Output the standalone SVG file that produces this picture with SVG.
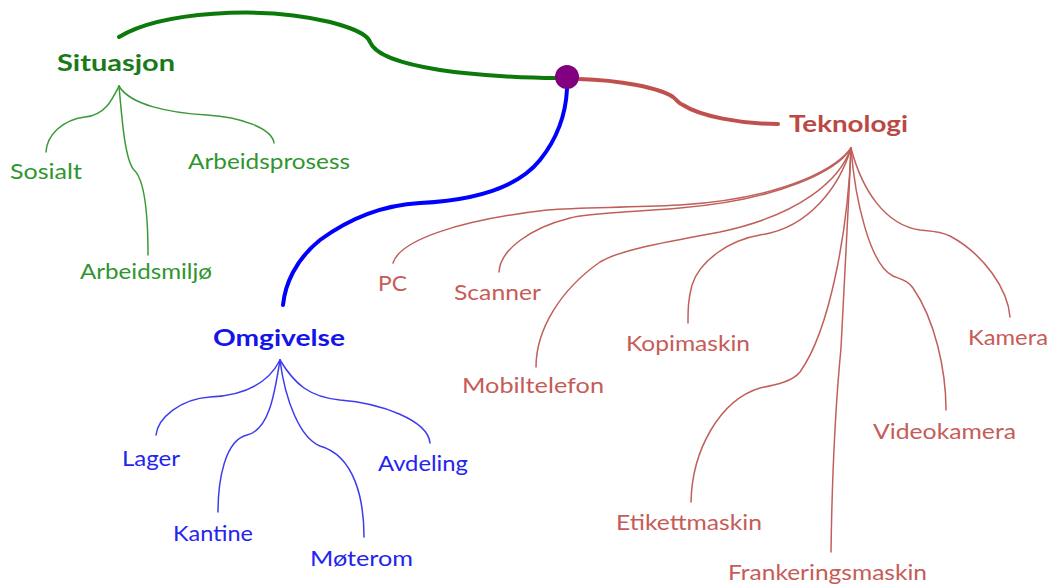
<svg xmlns="http://www.w3.org/2000/svg" width="1051" height="588" viewBox="0 0 1051 588">
<style>
text{font-family:Lato,"Open Sans","Liberation Sans",sans-serif;font-size:22px}
.b{font-weight:bold;font-size:23px}
.g{fill:#2f962f}.gb{fill:#1a7a1a}
.bl{fill:#2424f0}.blb{fill:#1414e8}
.r{fill:#c65c57}.rb{fill:#bb4843}
.thick{fill:none;stroke-width:4;stroke-linecap:round}
.thin{fill:none;stroke-width:1.5;stroke-linecap:round}
.cg{stroke:#0b7a0b}.cgt{stroke:#3a9a3a}
.cb{stroke:#0000ff}.cbt{stroke:#3c3cee}
.cr{stroke:#c0504d}.crt{stroke:#c0605c}
</style>
<rect width="1051" height="588" fill="#fff"/>
<g id="connectors">
<path class="thick cg" d="M119,37 C160,12 260,5 330,22 C360,30 368,36 370,42 C374,52 390,62 440,70 C480,76 530,78 556,78"/>
<path class="thick cr" d="M579,79 C620,80 660,88 673,97 C677,100 678,103 683,105 C700,116 740,124 778,124"/>
<path class="thick cb" d="M567,89 C566,110 560,135 540,160 C520,185 480,200 420,203 C385,205 350,218 320,240 C295,260 285,285 283,305"/>
<path class="thin cgt" d="M119,86 C112,100 105,115 85,117 C62,120 47,135 46,152"/>
<path class="thin cgt" d="M119,86 C130,105 170,113 207,115 C240,117 272,128 274,143"/>
<path class="thin cgt" d="M119,86 C122,120 125,160 134,170 C145,180 148,220 148,255"/>
<path class="thin cbt" d="M280,360 C270,380 250,395 210,397 C180,399 158,418 156,435"/>
<path class="thin cbt" d="M280,360 C275,390 270,430 247,435 C225,440 218,480 218,512"/>
<path class="thin cbt" d="M280,360 C285,400 300,438 320,446 C355,456 364,500 364,537"/>
<path class="thin cbt" d="M280,360 C295,385 310,397 340,400 C380,403 428,420 430,443"/>
<path class="thin crt" d="M851,148 C840,165 790,198 680,205 C620,208 580,207 547,210 C460,220 400,240 393,263"/>
<path class="thin crt" d="M851,148 C838,170 780,200 680,208 C620,213 590,213 570,218 C530,228 500,250 499,272"/>
<path class="thin crt" d="M851,148 C840,180 800,215 720,232 C660,243 620,250 600,262 C560,290 536,330 536,367"/>
<path class="thin crt" d="M851,148 C840,185 810,228 760,235 C730,240 700,260 692,285 C688,300 688,310 688,323"/>
<path class="thin crt" d="M851,148 C848,230 830,330 800,372 C792,382 775,385 760,388 C720,400 692,450 691,502"/>
<path class="thin crt" d="M851,148 C848,220 843,300 841,348 C836,400 832,480 831,552"/>
<path class="thin crt" d="M851,148 C855,200 870,265 893,276 C903,280 908,281 913,288 C935,320 946,370 946,410"/>
<path class="thin crt" d="M851,148 C862,190 885,225 920,230 C930,231 940,231 950,236 C985,255 1008,290 1010,317"/>
</g>
<g id="center"><circle cx="567" cy="77" r="12" fill="#800080"/></g>
<g id="situasjon"><text class="b gb" x="57" y="71" textLength="118" lengthAdjust="spacingAndGlyphs">Situasjon</text></g>
<g id="sosialt"><text class="g" x="10" y="179" textLength="72" lengthAdjust="spacingAndGlyphs">Sosialt</text></g>
<g id="arbeidsprosess"><text class="g" x="188" y="169" textLength="162" lengthAdjust="spacingAndGlyphs">Arbeidsprosess</text></g>
<g id="arbeidsmiljo"><text class="g" x="80" y="279" textLength="132" lengthAdjust="spacingAndGlyphs">Arbeidsmiljø</text></g>
<g id="omgivelse"><text class="b blb" x="213" y="346" textLength="132" lengthAdjust="spacingAndGlyphs">Omgivelse</text></g>
<g id="lager"><text class="bl" x="122" y="466" textLength="58" lengthAdjust="spacingAndGlyphs">Lager</text></g>
<g id="kantine"><text class="bl" x="173" y="541" textLength="80" lengthAdjust="spacingAndGlyphs">Kantine</text></g>
<g id="moterom"><text class="bl" x="310" y="566" textLength="103" lengthAdjust="spacingAndGlyphs">Møterom</text></g>
<g id="avdeling"><text class="bl" x="378" y="471" textLength="90" lengthAdjust="spacingAndGlyphs">Avdeling</text></g>
<g id="teknologi"><text class="b rb" x="789" y="132" textLength="119" lengthAdjust="spacingAndGlyphs">Teknologi</text></g>
<g id="pc"><text class="r" x="378" y="291" textLength="29" lengthAdjust="spacingAndGlyphs">PC</text></g>
<g id="scanner"><text class="r" x="454" y="300" textLength="87" lengthAdjust="spacingAndGlyphs">Scanner</text></g>
<g id="mobiltelefon"><text class="r" x="462" y="393" textLength="142" lengthAdjust="spacingAndGlyphs">Mobiltelefon</text></g>
<g id="kopimaskin"><text class="r" x="626" y="351" textLength="124" lengthAdjust="spacingAndGlyphs">Kopimaskin</text></g>
<g id="kamera"><text class="r" x="968" y="345" textLength="80" lengthAdjust="spacingAndGlyphs">Kamera</text></g>
<g id="videokamera"><text class="r" x="873" y="439" textLength="143" lengthAdjust="spacingAndGlyphs">Videokamera</text></g>
<g id="etikettmaskin"><text class="r" x="616" y="530" textLength="146" lengthAdjust="spacingAndGlyphs">Etikettmaskin</text></g>
<g id="frankeringsmaskin"><text class="r" x="728" y="580" textLength="199" lengthAdjust="spacingAndGlyphs">Frankeringsmaskin</text></g>
</svg>
